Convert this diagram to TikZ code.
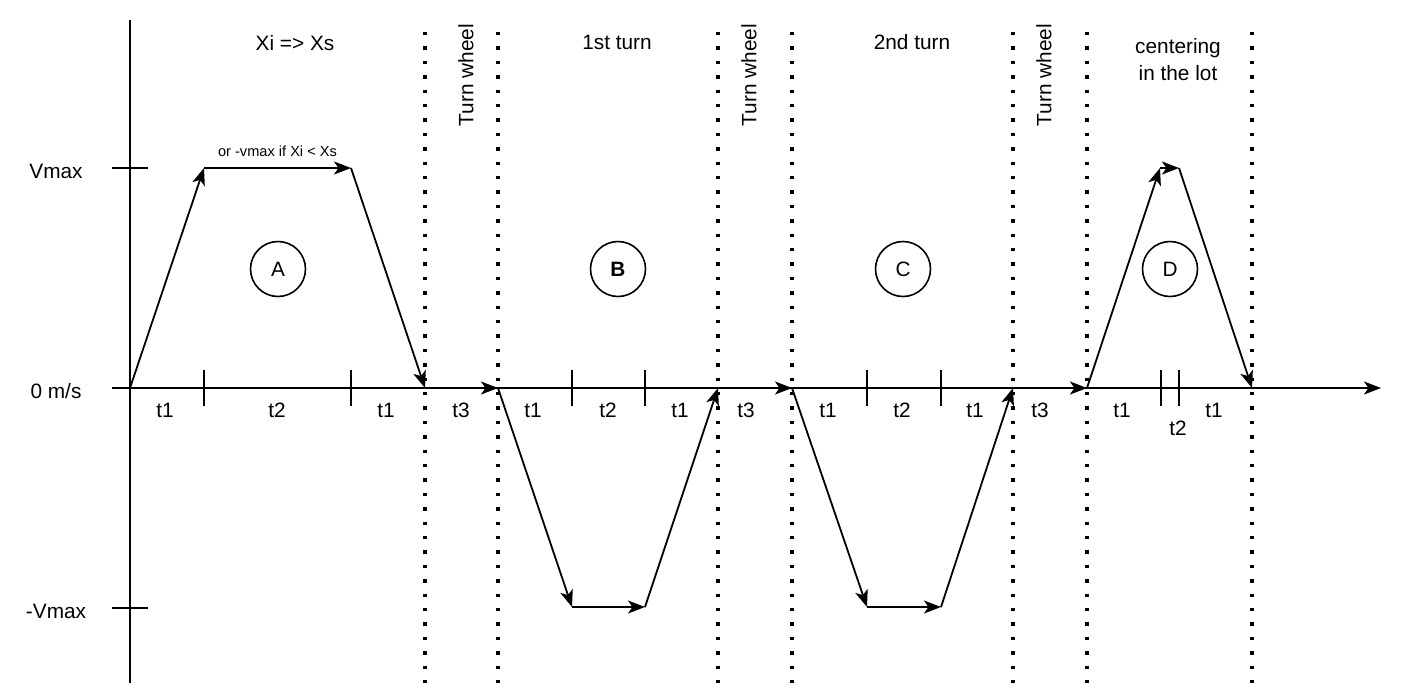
\documentclass[tikz,border=0pt]{standalone}
\usepackage{fontspec}
\setmainfont{Liberation Sans}
\usetikzlibrary{arrows.meta}

\begin{document}
\begin{tikzpicture}[
    x=0.5pt, y=-0.5pt,
    arrow/.style={-{Stealth[length=8.5pt, width=6.5pt, inset=2.2pt]}, line width=0.9pt},
    axis/.style={line width=0.9pt},
    tick/.style={line width=0.8pt},
    sep/.style={line width=1.7pt, dash pattern=on 1.7pt off 5.5pt},
    phase/.style={circle, draw, line width=0.8pt, minimum size=27.5pt, inner sep=0pt},
    every node/.style={align=center, font=\fontsize{10.4}{13.5}\selectfont}
]
\useasboundingbox (0,0) rectangle (1413,697);

% Axes
\draw [axis] (130,20) -- (130,683);
\coordinate (origin) at (112,388);
\coordinate (tend) at (1381,388);
\draw [arrow] (origin) -- (tend);
\draw [tick] (112,168) -- (148,168);
\draw [tick] (112,608) -- (148,608);

% Axis labels
\node (vmax) at (56,171) {Vmax};
\node (zero) at (56,391) {0 m/s};
\node (nvmax) at (56,611) {-Vmax};

% Ticks on time axis
\draw [tick] (204,370) -- (204,406);
\draw [tick] (351,370) -- (351,406);
\draw [tick] (572,370) -- (572,406);
\draw [tick] (645,370) -- (645,406);
\draw [tick] (867,370) -- (867,406);
\draw [tick] (941,370) -- (941,406);
\draw [tick] (1161,370) -- (1161,406);
\draw [tick] (1179,370) -- (1179,406);

% Phase separators
\draw [sep] (425,32) -- (425,683);
\draw [sep] (498,32) -- (498,683);
\draw [sep] (718,32) -- (718,683);
\draw [sep] (792,32) -- (792,683);
\draw [sep] (1013,32) -- (1013,683);
\draw [sep] (1087,32) -- (1087,683);
\draw [sep] (1252,32) -- (1252,683);

% Phase titles
\node (titleA) at (295,43) {Xi => Xs};
\node (titleB) at (617,42) {1st turn};
\node (titleC) at (912,42) {2nd turn};
\node (titleD) at (1178,60) {centering\\in the lot};
\node (wheel1) [rotate=90] at (466,75) {Turn wheel};
\node (wheel2) [rotate=90] at (749,75) {Turn wheel};
\node (wheel3) [rotate=90] at (1044,75) {Turn wheel};

% Phase circles
\node (A) [phase] at (278,269) {A};
\node (B) [phase] at (618,269) {\bfseries B};
\node (C) [phase] at (903,269) {C};
\node (D) [phase] at (1170,269) {D};

% Durations
\node (dA1) at (165,410) {t1};
\node (dA2) at (277,410) {t2};
\node (dA3) at (386,410) {t1};
\node (dA4) at (461,410) {t3};
\node (dB1) at (533,410) {t1};
\node (dB2) at (608,410) {t2};
\node (dB3) at (680,410) {t1};
\node (dB4) at (746,410) {t3};
\node (dC1) at (828,410) {t1};
\node (dC2) at (902,410) {t2};
\node (dC3) at (975,410) {t1};
\node (dC4) at (1040,410) {t3};
\node (dD1) at (1122,410) {t1};
\node (dD2) at (1178,428) {t2};
\node (dD3) at (1214,410) {t1};

% Speed profile points
\coordinate (a0) at (130,388);
\coordinate (a1) at (204,168);
\coordinate (a2) at (351,168);
\coordinate (a3) at (425,388);
\coordinate (b0) at (498,388);
\coordinate (b1) at (572,607);
\coordinate (b2) at (645,607);
\coordinate (b3) at (718,388);
\coordinate (c0) at (792,388);
\coordinate (c1) at (867,607);
\coordinate (c2) at (941,607);
\coordinate (c3) at (1013,388);
\coordinate (d0) at (1087,388);
\coordinate (d1) at (1160,168);
\coordinate (d2) at (1179,168);
\coordinate (d3) at (1252,388);

% Speed profile arrows
\draw [arrow] (a0) -- (a1);
\draw [arrow] (a1) -- node[above=2pt, font=\fontsize{7.3}{9}\selectfont] (note) {or -vmax if Xi < Xs} (a2);
\draw [arrow] (a2) -- (a3);
\draw [arrow] (a3) -- (b0);
\draw [arrow] (b0) -- (b1);
\draw [arrow] (b1) -- (b2);
\draw [arrow] (b2) -- (b3);
\draw [arrow] (b3) -- (c0);
\draw [arrow] (c0) -- (c1);
\draw [arrow] (c1) -- (c2);
\draw [arrow] (c2) -- (c3);
\draw [arrow] (c3) -- (d0);
\draw [arrow] (d0) -- (d1);
\draw [arrow] (d1) -- (d2);
\draw [arrow] (d2) -- (d3);

\end{tikzpicture}
\end{document}
